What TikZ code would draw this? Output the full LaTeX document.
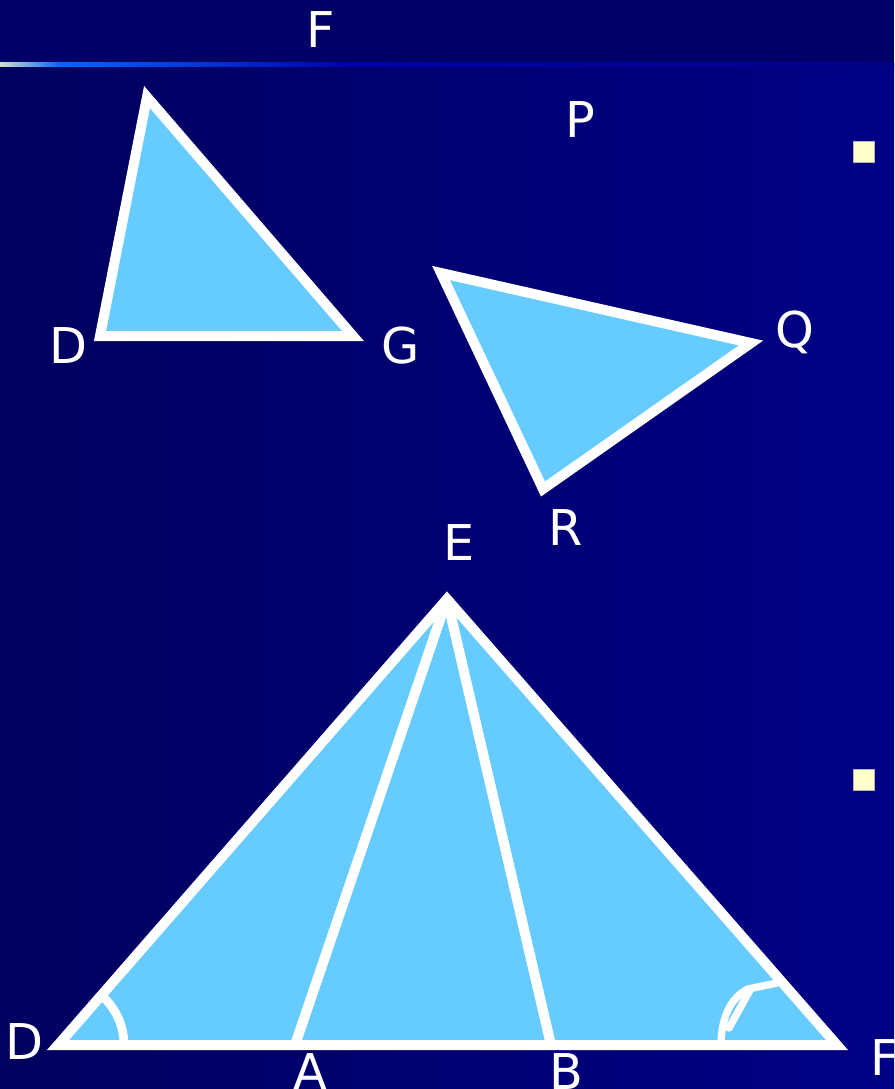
\documentclass[tikz,border=0pt]{standalone}
\usepackage{fontspec}
\setmainfont{DejaVu Sans}
\usetikzlibrary{calc}

\definecolor{bgleft}{RGB}{0,0,94}
\definecolor{bgright}{RGB}{0,0,134}
\definecolor{bandcol}{RGB}{0,0,102}
\definecolor{skyfill}{RGB}{102,204,255}
\definecolor{bulletcol}{RGB}{255,255,204}
\definecolor{rulelight}{RGB}{208,224,200}
\definecolor{ruleblue}{RGB}{0,102,255}
\definecolor{ruledeep}{RGB}{0,0,168}

\tikzset{
  tri/.style={draw=white, fill=skyfill, line width=7.5pt, line join=miter},
  side/.style={draw=white, line width=7.5pt},
  anglemark/.style={draw=white, line width=6.5pt, line cap=round, line join=round},
  lbl/.style={text=white, font=\fontsize{37}{40}\selectfont, inner sep=0pt},
  bulletbox/.style={fill=bulletcol, draw=gray!60, line width=0.5pt}
}

\begin{document}
\begin{tikzpicture}[x=0.75pt, y=-0.75pt]
\useasboundingbox (0,0) rectangle (894,1089);

% background and title band
\shade[left color=bgleft, right color=bgright] (0,62) rectangle (894,1089);
\fill[bandcol] (0,0) rectangle (894,62);
\shade[left color=rulelight, right color=ruleblue] (0,62) rectangle (60,66);
\shade[left color=ruleblue, right color=ruledeep] (60,62) rectangle (350,66);
\shade[left color=ruledeep, right color=bgright] (350,62) rectangle (894,66);
\node[lbl] (title) at (321,30) {F};

% bullets
\foreach \by in {141, 769}
    \draw[bulletbox] (853,\by) rectangle +(21,21);

% triangle DFG
\coordinate (dgTop) at (147,97);
\coordinate (dgD) at (100,336);
\coordinate (dgG) at (353,336);
\filldraw[tri] (dgTop) -- (dgD) -- (dgG) -- cycle;
\node[lbl] (lblD) at (68,346) {D};
\node[lbl] (lblG) at (401,346) {G};

% triangle PQR
\coordinate (pqP) at (441,273);
\coordinate (pqQ) at (751,343);
\coordinate (pqR) at (543,489);
\filldraw[tri] (pqP) -- (pqQ) -- (pqR) -- cycle;
\node[lbl] (lblP) at (580,120) {P};
\node[lbl] (lblQ) at (795,332) {Q};
\node[lbl] (lblR) at (566,528) {R};

% big triangle DEF with cevians
\coordinate (bigD) at (58,1045);
\coordinate (bigE) at (447,599);
\coordinate (bigF) at (837,1045);
\coordinate (bigA) at (295,1045);
\coordinate (bigB) at (551,1045);
\filldraw[tri] (bigD) -- (bigE) -- (bigF) -- cycle;
\draw[side] (bigE) -- (bigA);
\draw[side] (bigE) -- (bigB);
\node[lbl] (lblE) at (459,543) {E};
\node[lbl] (lblD2) at (24,1042) {D};
\node[lbl] (lblA) at (310,1072) {A};
\node[lbl] (lblB) at (566,1072) {B};
\node[lbl] (lblF) at (885,1058) {F};

% angle marks
\draw[anglemark] ($(bigD)+(-47:66)$) arc[start angle=-47, end angle=0, radius=66];
\draw[anglemark, line width=5.5pt] (777,983) -- (748,989) .. controls (730,998) and (722,1018) .. (721,1042);
\draw[anglemark, line width=5.5pt] (750,990) -- (729,1028);

\end{tikzpicture}
\end{document}
